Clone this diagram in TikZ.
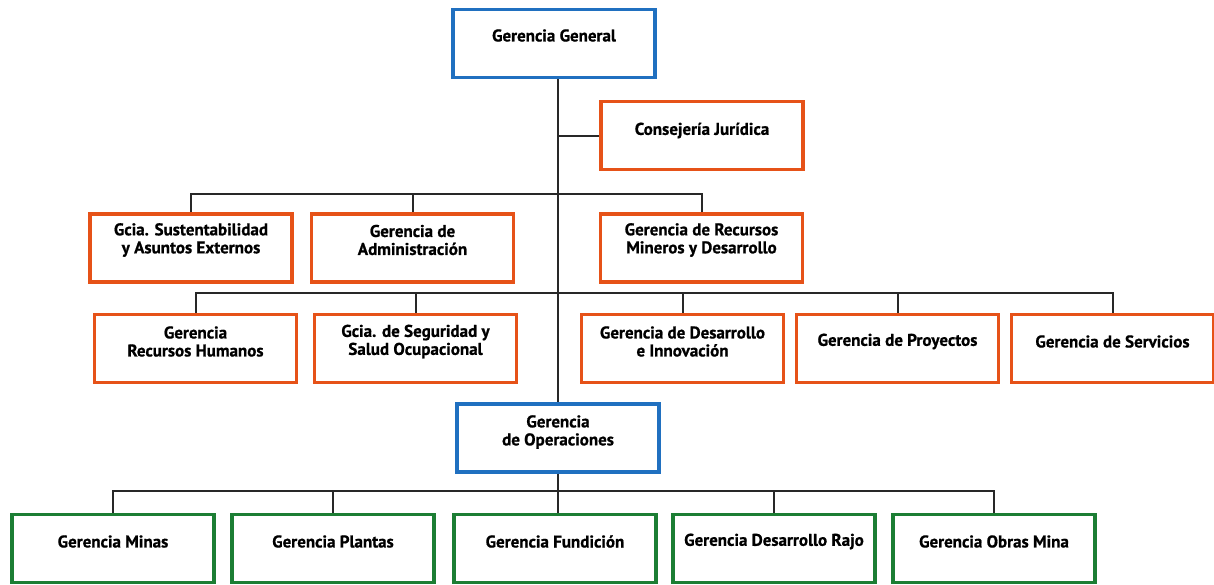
\documentclass[tikz,border=0pt]{standalone}
\usepackage{fontspec}
\setmainfont{PT Sans}[BoldFeatures={FakeBold=0.8}]
\begin{document}
\definecolor{boxblue}{RGB}{32,112,192}
\definecolor{boxorange}{RGB}{230,82,24}
\definecolor{boxgreen}{RGB}{28,126,52}
\definecolor{wire}{RGB}{40,40,40}
\begin{tikzpicture}[x=1pt,y=-1pt,
  orgbox/.style={draw=#1, line width=3.6pt, minimum width=202pt, minimum height=68pt,
    inner sep=0pt, fill=white},
  boxtxt/.style={font=\bfseries\fontsize{17}{18}\selectfont, align=center, inner sep=0pt},
  wireline/.style={draw=wire, line width=2pt}]
\useasboundingbox (0,0) rectangle (1214,584);

% level 1
\node[orgbox=boxblue] (gg) at (554,43.5) {};
\node[orgbox=boxorange] (cj) at (702,135.5) {};
% level 2
\node[orgbox=boxorange] (sust) at (191,248) {};
\node[orgbox=boxorange] (adm) at (412.5,248) {};
\node[orgbox=boxorange] (rmd) at (701.5,248) {};
% level 3
\node[orgbox=boxorange] (rrhh) at (195.5,348.5) {};
\node[orgbox=boxorange] (seg) at (415.5,348.5) {};
\node[orgbox=boxorange] (din) at (682.5,348.5) {};
\node[orgbox=boxorange] (proy) at (897.5,348.5) {};
\node[orgbox=boxorange] (serv) at (1112.5,348.5) {};
% operations
\node[orgbox=boxblue] (ops) at (558,438) {};
\node[orgbox=boxgreen] (minas) at (113,548.5) {};
\node[orgbox=boxgreen] (plantas) at (333,548.5) {};
\node[orgbox=boxgreen] (fund) at (555,548.5) {};
\node[orgbox=boxgreen] (rajo) at (774,548.5) {};
\node[orgbox=boxgreen] (obras) at (994,548.5) {};

% bus rails
\coordinate (bus2) at (558,194);
\coordinate (bus3) at (558,293);
\coordinate (bus4) at (558,491);

% connectors
\draw[wireline] (ops.north |- gg.south) -- (ops.north);
\draw[wireline] (ops.north |- cj.west) -- (cj.west);
\draw[wireline] (sust.north) |- (bus2) -| (rmd.north);
\draw[wireline] (adm.north) -- (adm.north |- bus2);
\draw[wireline] (rrhh.north) |- (bus3) -| (serv.north);
\draw[wireline] (seg.north) -- (seg.north |- bus3);
\draw[wireline] (din.north) -- (din.north |- bus3);
\draw[wireline] (proy.north) -- (proy.north |- bus3);
\draw[wireline] (ops.south) -- (ops.south |- fund.north);
\draw[wireline] (minas.north) |- (bus4) -| (obras.north);
\draw[wireline] (plantas.north) -- (plantas.north |- bus4);
\draw[wireline] (rajo.north) -- (rajo.north |- bus4);

% box texts
\node[boxtxt] (gg-t) at ([yshift=8pt]gg.center) {Gerencia General};
\node[boxtxt] (cj-t) at ([yshift=5pt]cj.center) {Consejería Jurídica};
\node[boxtxt] (sust-t) at ([yshift=8pt]sust.center) {Gcia. Sustentabilidad\\y Asuntos Externos};
\node[boxtxt] (adm-t) at ([yshift=8pt]adm.center) {Gerencia de\\Administración};
\node[boxtxt] (rmd-t) at ([yshift=8pt]rmd.center) {Gerencia de Recursos\\Mineros y Desarrollo};
\node[boxtxt] (rrhh-t) at ([yshift=7pt]rrhh.center) {Gerencia\\Recursos Humanos};
\node[boxtxt] (seg-t) at ([yshift=7pt]seg.center) {Gcia. de Seguridad y\\Salud Ocupacional};
\node[boxtxt] (din-t) at ([yshift=7pt]din.center) {Gerencia de Desarrollo\\e Innovación};
\node[boxtxt] (proy-t) at ([yshift=7pt]proy.center) {Gerencia de Proyectos};
\node[boxtxt] (serv-t) at ([yshift=7pt]serv.center) {Gerencia de Servicios};
\node[boxtxt] (ops-t) at ([yshift=6pt]ops.center) {Gerencia\\de Operaciones};
\node[boxtxt] (minas-t) at ([yshift=7pt]minas.center) {Gerencia Minas};
\node[boxtxt] (plantas-t) at ([yshift=7pt]plantas.center) {Gerencia Plantas};
\node[boxtxt] (fund-t) at ([yshift=7pt]fund.center) {Gerencia Fundición};
\node[boxtxt] (rajo-t) at ([yshift=7pt]rajo.center) {Gerencia Desarrollo Rajo};
\node[boxtxt] (obras-t) at ([yshift=7pt]obras.center) {Gerencia Obras Mina};
\end{tikzpicture}
\end{document}
